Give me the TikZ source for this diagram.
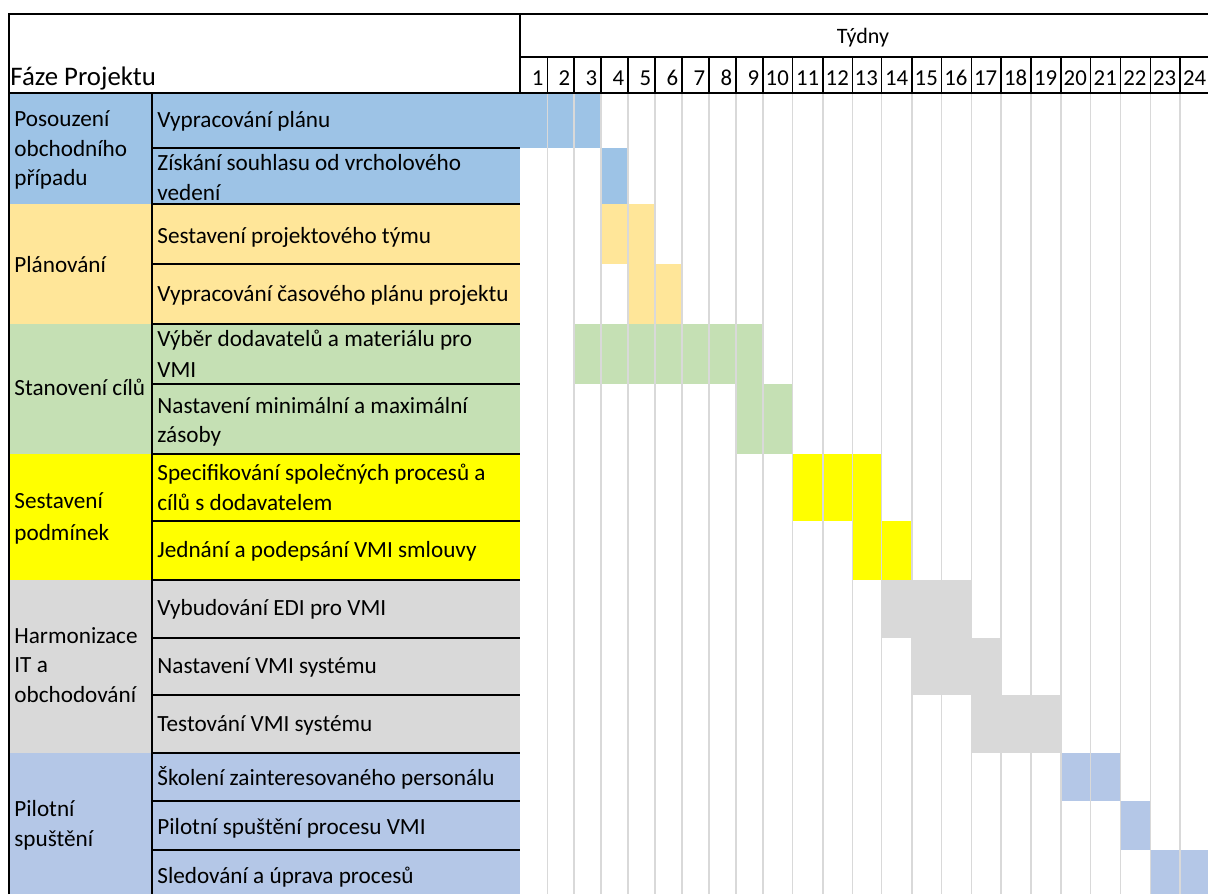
\documentclass[tikz,border=0pt]{standalone}
\usepackage{fontspec}
\setmainfont{Carlito}
\definecolor{phaseA}{HTML}{9DC3E6}
\definecolor{phaseB}{HTML}{FFE699}
\definecolor{phaseC}{HTML}{C5E0B4}
\definecolor{phaseD}{HTML}{FFFF00}
\definecolor{phaseE}{HTML}{D9D9D9}
\definecolor{phaseF}{HTML}{B4C7E7}
\definecolor{gridgray}{HTML}{D9D9D9}
\tikzset{
  txt/.style={inner sep=0pt, anchor=base west, font=\fontsize{11.6}{15}\selectfont},
  headtxt/.style={txt, font=\fontsize{13.4}{15}\selectfont},
  wknum/.style={inner sep=0pt, anchor=base east, font=\fontsize{11.4}{15}\selectfont},
  rule/.style={line width=0.75pt, black},
  frame/.style={line width=1pt, black},
  gridline/.style={line width=0.7pt, gridgray},
}
% week column boundaries (x positions)
\def\wx{{520,547.3,574,601,628,655,682,709,736,763,792.7,823,852.7,881.7,912,941.7,971.3,1001,1031,1061,1090.7,1120.7,1150.3,1180,1210}}
\begin{document}
\begin{tikzpicture}[x=0.5pt,y=-0.5pt]
\useasboundingbox (0,0) rectangle (1208,894);
\fill[white] (0,0) rectangle (1208,894);

% phase cells and task cells
\fill[phaseA] (9,93) rectangle (520,204);
\fill[phaseB] (9,204) rectangle (520,324);
\fill[phaseC] (9,324) rectangle (520,454);
\fill[phaseD] (9,454) rectangle (520,580);
\fill[phaseE] (9,580) rectangle (520,753);
\fill[phaseF] (9,753) rectangle (520,894);

% schedule bars: top, bottom, first week, last week, colour
\foreach \t/\b/\s/\e/\c in {
  93/148/1/3/phaseA, 148/204/4/4/phaseA,
  204/264/4/5/phaseB, 264/324/5/6/phaseB,
  324/384/3/9/phaseC, 384/454/9/10/phaseC,
  454/521/11/13/phaseD, 521/580/13/14/phaseD,
  580/638/14/16/phaseE, 638/695/15/17/phaseE, 695/753/17/19/phaseE,
  753/801/20/21/phaseF, 801/850/22/22/phaseF, 850/894/23/24/phaseF}{
  \pgfmathsetmacro\xa{\wx[\s-1]}
  \pgfmathsetmacro\xb{\wx[\e]}
  \fill[\c] (\xa,\t) rectangle (\xb,\b);
}

% light week grid in the body
\foreach \i in {1,...,23}{
  \pgfmathsetmacro\xx{\wx[\i]}
  \draw[gridline] (\xx,93) -- (\xx,894);
}

% black rules of the table
\draw[frame] (9,894) -- (9,14) -- (1208,14);
\draw[rule] (520,57) -- (1208,57);
\draw[rule] (9,93) -- (1208,93);
\draw[rule] (520,14) -- (520,93);
\foreach \i in {1,...,23}{
  \pgfmathsetmacro\xx{\wx[\i]}
  \draw[rule] (\xx,57) -- (\xx,93);
}
\draw[rule] (152,93) -- (152,894);
\foreach \y in {148,204,264,324,384,454,521,580,638,695,753,801,850}{
  \draw[rule] (152,\y) -- (520,\y);
}

% header texts
\node[txt, anchor=base, font=\fontsize{11}{13}\selectfont] (weeks) at (863,43) {Týdny};
\node[headtxt] (phasehead) at (10,85) {Fáze Projektu};
\foreach \i in {1,...,24}{
  \pgfmathsetmacro\xx{\wx[\i]-3.5}
  \node[wknum] (wk\i) at (\xx,85.5) {\i};
}

% phase names
\node[txt] (pA1) at (14,126) {Posouzení};
\node[txt] (pA2) at (14,156) {obchodního};
\node[txt] (pA3) at (14,185) {případu};
\node[txt] (pB) at (14,272) {Plánování};
\node[txt] (pC) at (14,395) {Stanovení cílů};
\node[txt] (pD1) at (14,508) {Sestavení};
\node[txt] (pD2) at (14,540) {podmínek};
\node[txt] (pE1) at (14,643) {Harmonizace};
\node[txt] (pE2) at (14,672) {IT a};
\node[txt] (pE3) at (14,702) {obchodování};
\node[txt] (pF1) at (14,816) {Pilotní};
\node[txt] (pF2) at (14,846) {spuštění};

% task names
\node[txt] (t1) at (157,127) {Vypracování plánu};
\node[txt] (t2a) at (157,170) {Získání souhlasu od vrcholového};
\node[txt] (t2b) at (157,200) {vedení};
\node[txt] (t3) at (157,243) {Sestavení projektového týmu};
\node[txt] (t4) at (157,301) {Vypracování časového plánu projektu};
\node[txt] (t5a) at (157,346) {Výběr dodavatelů a materiálu pro};
\node[txt] (t5b) at (157,377) {VMI};
\node[txt] (t6a) at (157,413) {Nastavení minimální a maximální};
\node[txt] (t6b) at (157,442) {zásoby};
\node[txt] (t7a) at (157,480) {Specifikování společných procesů a};
\node[txt] (t7b) at (157,510) {cílů s dodavatelem};
\node[txt] (t8) at (157,557) {Jednání a podepsání VMI smlouvy};
\node[txt] (t9) at (157,615) {Vybudování EDI pro VMI};
\node[txt] (t10) at (157,673) {Nastavení VMI systému};
\node[txt] (t11) at (157,731) {Testování VMI systému};
\node[txt] (t12) at (157,785) {Školení zainteresovaného personálu};
\node[txt] (t13) at (157,834) {Pilotní spuštění procesu VMI};
\node[txt] (t14) at (157,883) {Sledování a úprava procesů};
\end{tikzpicture}
\end{document}
